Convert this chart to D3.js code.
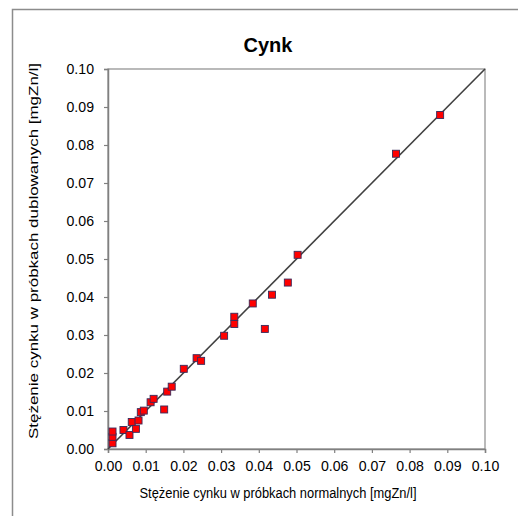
<!DOCTYPE html>
<html><head><meta charset="utf-8">
<script src="https://cdn.jsdelivr.net/npm/d3@7"></script>
<style>body{margin:0;background:#fff}svg{display:block}text{font-family:"Liberation Sans",Arial,sans-serif}</style>
</head><body>
<script>
const title = "Cynk";
const xLabel = "Stężenie cynku w próbkach normalnych [mgZn/l]";
const yLabel = "Stężenie cynku w próbkach dublowanych  [mgZn/l]";
const xNormal = [0.0012,0.0012,0.0012,0.0041,0.0057,0.0063,0.0074,0.0081,0.0087,0.0095,0.0113,0.0121,0.0149,0.0157,0.0169,0.0201,0.0235,0.0247,0.0308,0.0335,0.0335,0.0384,0.0416,0.0435,0.0477,0.0503,0.0764,0.0881];
const yDuplicate = [0.0015,0.0032,0.0046,0.0050,0.0037,0.0071,0.0053,0.0075,0.0097,0.0101,0.0123,0.0132,0.0104,0.0151,0.0164,0.0211,0.0239,0.0232,0.0298,0.0329,0.0348,0.0383,0.0316,0.0406,0.0438,0.0511,0.0777,0.0879];
const tickValues = [0,0.01,0.02,0.03,0.04,0.05,0.06,0.07,0.08,0.09,0.10];
const lineEnds = [0, 0.10];

const W = 518, H = 516;
const svg = d3.select("body").append("svg").attr("width", W).attr("height", H);
const x = d3.scaleLinear().domain([0, 0.1]).range([108, 485]);
const y = d3.scaleLinear().domain([0, 0.1]).range([449, 69]);

// outer frame (clipped by window on right and bottom)
svg.append("rect").attr("x", 12.5).attr("y", 9.5).attr("width", 520).attr("height", 520)
  .attr("fill", "none").attr("stroke", "#8c8c8c").attr("stroke-width", 1.5);

// plot area border
svg.append("rect").attr("x", x(0)).attr("y", y(0.1)).attr("width", x(0.1) - x(0)).attr("height", y(0) - y(0.1))
  .attr("fill", "#fff").attr("stroke", "#8c8c8c").attr("stroke-width", 1.2);

const fmt = d3.format(".2f");
const gx = svg.append("g").attr("transform", `translate(0,${y(0)})`)
  .call(d3.axisBottom(x).tickValues(tickValues).tickFormat(fmt).tickSize(4).tickPadding(7));
const gy = svg.append("g").attr("transform", `translate(${x(0)},0)`)
  .call(d3.axisLeft(y).tickValues(tickValues).tickFormat(fmt).tickSize(4).tickPadding(10));
[gx, gy].forEach(g => {
  g.select(".domain").attr("stroke", "#808080").attr("stroke-width", 1.5);
  g.selectAll(".tick line").attr("stroke", "#808080").attr("stroke-width", 1.2);
  g.selectAll(".tick text").attr("fill", "#000").style("font-size", "15px")
    .style("font-family", '"Liberation Sans",Arial,sans-serif')
    .attr("textLength", 27.5).attr("lengthAdjust", "spacingAndGlyphs");
});

// 1:1 line
svg.append("line").attr("x1", x(lineEnds[0])).attr("y1", y(lineEnds[0]))
  .attr("x2", x(lineEnds[1])).attr("y2", y(lineEnds[1]))
  .attr("stroke", "#404040").attr("stroke-width", 1.6);

// points
const pts = xNormal.map((v, i) => ({x: v, y: yDuplicate[i]}));
const s = 7;
svg.append("g").selectAll("rect").data(pts).join("rect")
  .attr("x", d => x(d.x) - s / 2).attr("y", d => y(d.y) - s / 2)
  .attr("width", s).attr("height", s)
  .attr("fill", "#ff0000").attr("stroke", "#3a2a5a").attr("stroke-width", 0.9);

// title
svg.append("text").attr("x", 268).attr("y", 52).attr("text-anchor", "middle")
  .style("font-size", "20px").style("font-weight", "bold").text(title);

// axis labels
svg.append("text").attr("x", 278).attr("y", 498).attr("text-anchor", "middle")
  .style("font-size", "14px").attr("fill", "#000")
  .attr("textLength", 277).attr("lengthAdjust", "spacingAndGlyphs").text(xLabel);
svg.append("text").attr("transform", "translate(38,251) rotate(-90)").attr("text-anchor", "middle")
  .style("font-size", "13.5px").attr("fill", "#000")
  .attr("textLength", 376).attr("lengthAdjust", "spacingAndGlyphs").text(yLabel);
</script>
</body></html>
